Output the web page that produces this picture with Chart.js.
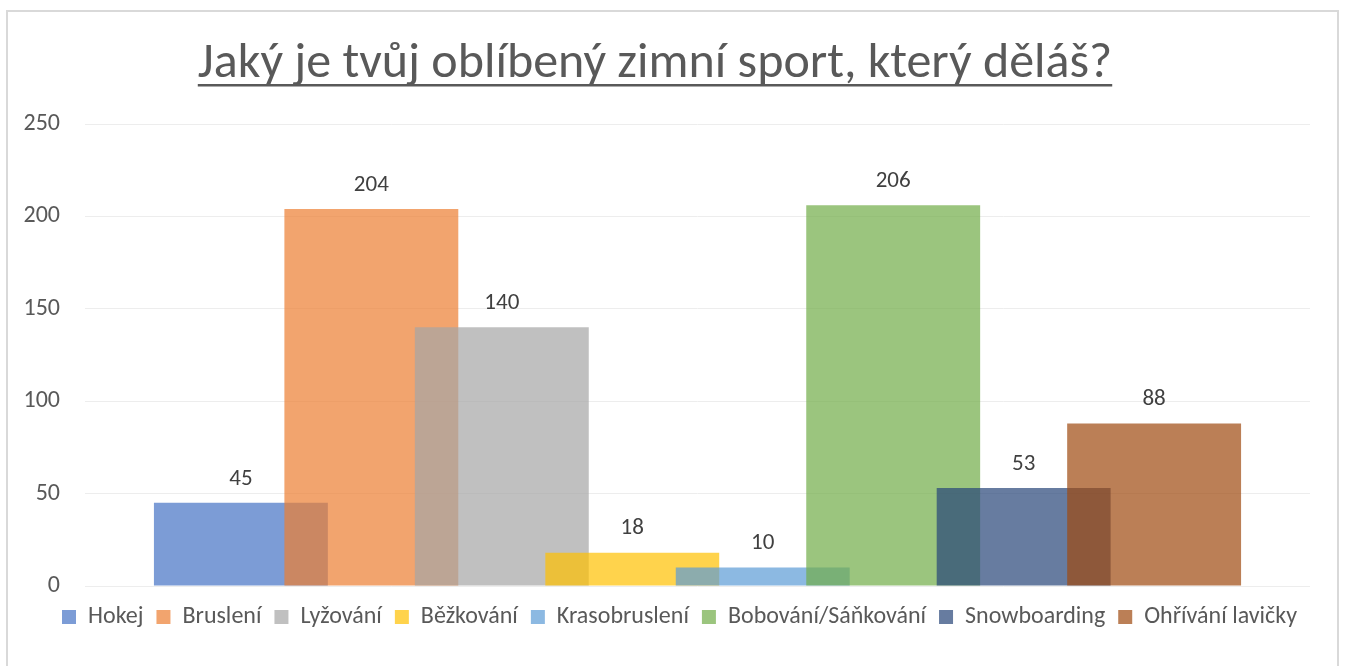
<!DOCTYPE html>
<html lang="cs">
  <head>
    <meta charset="UTF-8" />
    <title>Zimní sporty</title>
    <script src="https://cdn.jsdelivr.net/npm/chart.js"></script>
    <style>
      body { margin: 0; background: #fff; overflow: hidden; }
      #ramecek {
        position: absolute; left: 6px; top: 10px; width: 1333px; height: 700px;
        border: 2px solid #d9d9d9; box-sizing: border-box;
      }
      #graf { position: absolute; left: 0; top: 0; }
    </style>
  </head>
  <body>
    <div id="ramecek"></div>
    <canvas id="graf" width="1346" height="666"></canvas>

    <script>
      // data z ankety
      const nazevGrafu = "Jaký je tvůj oblíbený zimní sport, který děláš?"
      const sporty = ["Hokej", "Bruslení", "Lyžování", "Běžkování", "Krasobruslení", "Bobování/Sáňkování", "Snowboarding", "Ohřívání lavičky"]
      const hlasy = [45, 204, 140, 18, 10, 206, 53, 88]
      const barvy = [
        "rgba(68, 114, 196, 0.7)",
        "rgba(237, 125, 49, 0.7)",
        "rgba(165, 165, 165, 0.7)",
        "rgba(255, 192, 0, 0.7)",
        "rgba(91, 155, 213, 0.7)",
        "rgba(112, 173, 71, 0.7)",
        "rgba(38, 68, 120, 0.7)",
        "rgba(158, 72, 14, 0.7)",
      ]
      const osaY = { min: 0, max: 250, krok: 50 }

      const pismo = "Carlito, 'Open Sans', sans-serif"
      const sedaTextu = "#595959"
      const velikostNadpisu = 50
      const odsazeniNadpisu = 34

      let datasety = []
      for (let i = 0; i < sporty.length; i++) {
        datasety.push({
          label: sporty[i],
          data: [hlasy[i]],
          backgroundColor: barvy[i],
          borderWidth: 0,
        })
      }

      // Chart.js kreslí první dataset navrch, tady má být navrchu ten pozdější
      const poradiKresleni = {
        id: "poradiKresleni",
        beforeDatasetsDraw(chart) {
          for (let i = 0; i < chart.data.datasets.length; i++) {
            chart.getDatasetMeta(i).controller.draw()
          }
          return false
        },
      }

      // hodnoty nad sloupci + podtržení nadpisu
      const popisky = {
        id: "popisky",
        afterDraw(chart) {
          const ctx = chart.ctx
          ctx.save()
          ctx.font = "23px " + pismo
          ctx.fillStyle = "#404040"
          ctx.textAlign = "center"
          ctx.textBaseline = "middle"
          for (let i = 0; i < chart.data.datasets.length; i++) {
            const sloupec = chart.getDatasetMeta(i).data[0]
            ctx.fillText(chart.data.datasets[i].data[0], sloupec.x, sloupec.y - 24)
          }

          const t = chart.titleBlock
          ctx.font = velikostNadpisu + "px " + pismo
          const sirka = ctx.measureText(nazevGrafu).width
          const y = t.top + odsazeniNadpisu + velikostNadpisu * 0.6 + 20
          ctx.fillStyle = sedaTextu
          ctx.fillRect(t.left + t.width / 2 - sirka / 2, y, sirka, 2.5)
          ctx.restore()
        },
      }

      new Chart(document.getElementById("graf"), {
        type: "bar",
        data: { labels: [""], datasets: datasety },
        plugins: [poradiKresleni, popisky],
        options: {
          responsive: false,
          animation: false,
          categoryPercentage: 0.852,
          barPercentage: 1.333,
          layout: { padding: { top: 0, right: 36, bottom: 27, left: 0 } },
          scales: {
            x: {
              ticks: { display: false },
              grid: { display: false },
              border: { display: false },
              afterFit(s) { s.height = 6 },
            },
            y: {
              min: osaY.min,
              max: osaY.max,
              ticks: { stepSize: osaY.krok, color: sedaTextu, font: { family: pismo, size: 24 }, padding: 25 },
              grid: { color: "#ededed", drawTicks: false },
              border: { display: false },
              afterFit(s) { s.width = 85 },
            },
          },
          plugins: {
            tooltip: { enabled: false },
            title: {
              display: true,
              text: nazevGrafu,
              color: sedaTextu,
              font: { family: pismo, size: velikostNadpisu, weight: "normal" },
              padding: { top: odsazeniNadpisu, bottom: 30 },
            },
            legend: {
              position: "bottom",
              align: "end",
              labels: {
                color: sedaTextu,
                font: { family: pismo, size: 24 },
                boxWidth: 14,
                boxHeight: 14,
                padding: 13,
              },
            },
          },
        },
      })
    </script>
  </body>
</html>
